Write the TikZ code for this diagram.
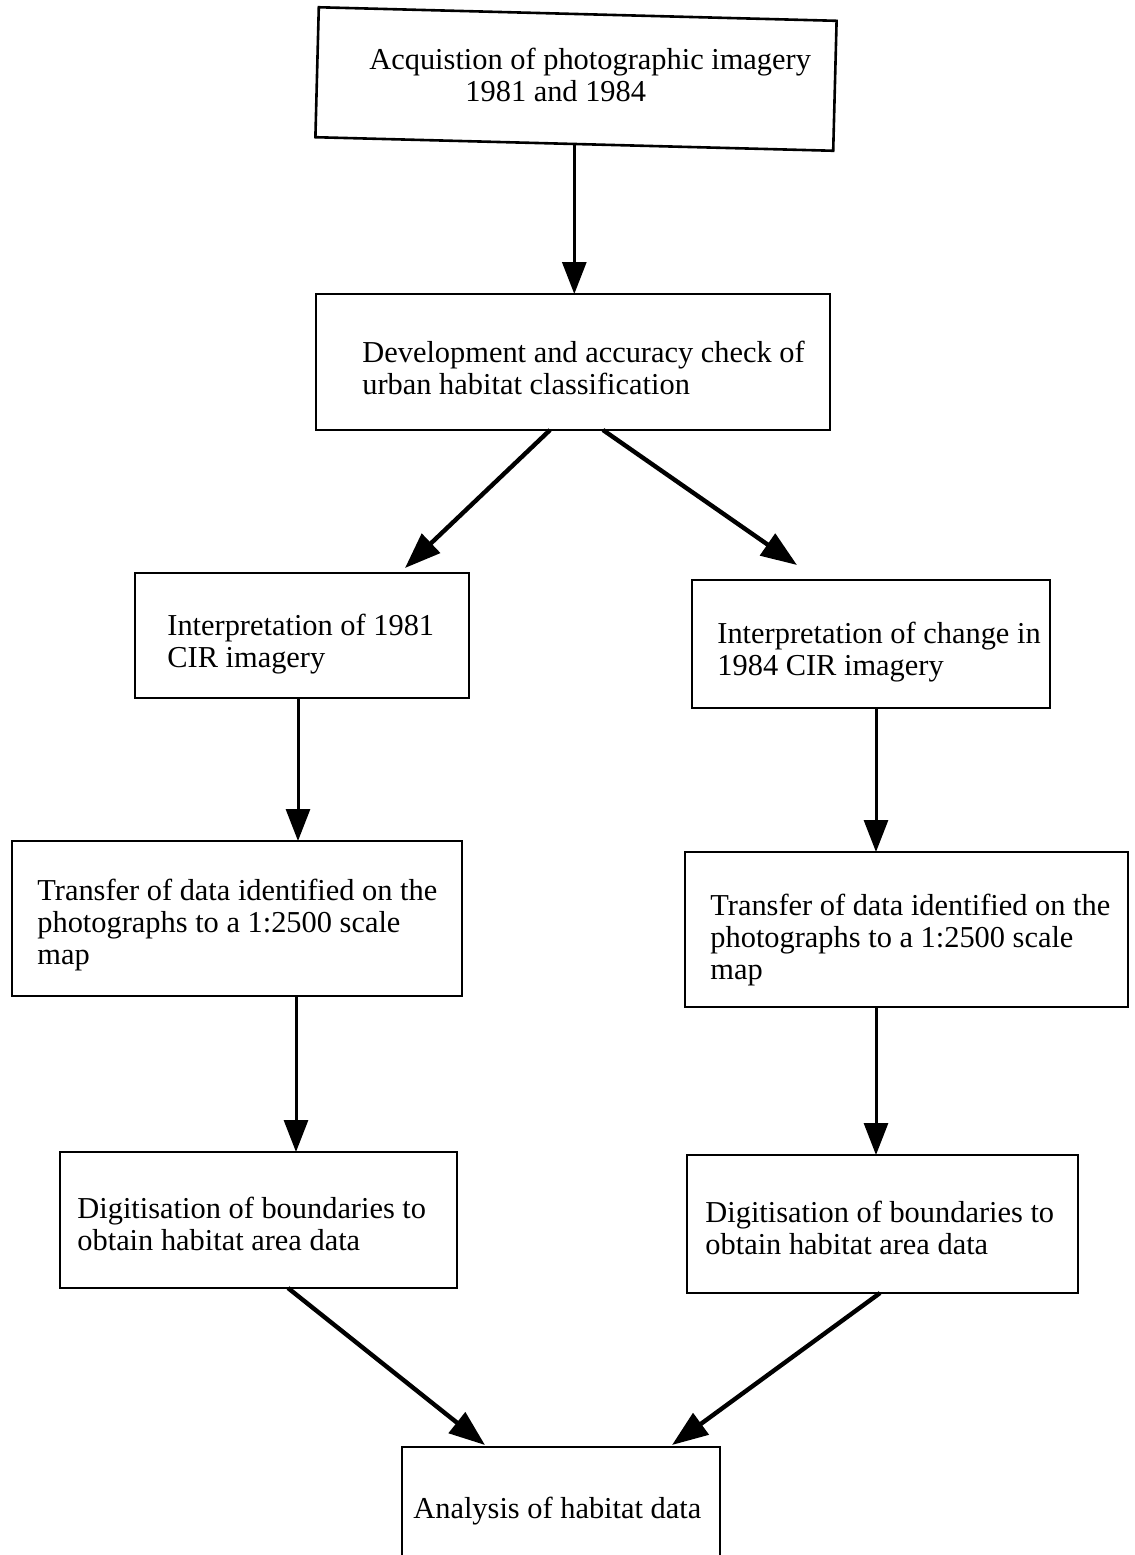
\documentclass[tikz,border=0pt]{standalone}
\usepackage{fontspec}
\setmainfont{Liberation Serif}
\usetikzlibrary{arrows.meta}
\begin{document}
\begin{tikzpicture}[x=0.5pt,y=-0.5pt,
  box/.style={draw, line width=1.3pt, inner sep=0pt, outer sep=0pt, anchor=north west},
  txt/.style={anchor=north west, inner sep=0pt, align=left, font=\fontsize{15.2}{16}\selectfont},
  arr/.style={line width=1.5pt, -{Triangle[length=16pt,width=12pt]}},
  arrd/.style={line width=2.2pt, -{Triangle[length=18pt,width=13pt]}}]
\fill[white] (0,0) rectangle (1135,1555);
\useasboundingbox (0,0) rectangle (1135,1555);

% boxes
\node[box, anchor=center, rotate=-1.5, minimum width=259pt, minimum height=65pt] (b1) at (576,79) {};
\node[box, minimum width=257pt, minimum height=68pt] (b2) at (316,294) {};
\node[box, minimum width=167pt, minimum height=62.5pt] (b3) at (135,573) {};
\node[box, minimum width=179pt, minimum height=64pt] (b4) at (692,580) {};
\node[box, minimum width=225pt, minimum height=77.5pt] (b5) at (12,841) {};
\node[box, minimum width=221.5pt, minimum height=77.5pt] (b6) at (685,852) {};
\node[box, minimum width=198.5pt, minimum height=68pt] (b7) at (60,1152) {};
\node[box, minimum width=195.5pt, minimum height=69pt] (b8) at (687,1155) {};
\node[box, draw=none, minimum width=159pt, minimum height=54pt] (b9) at (402,1447) {};
\draw[line width=1.3pt] (b9.south west) -- (b9.north west) -- (b9.north east) -- (b9.south east);

% texts
\node[txt] (t1) at (369,47) {\strut Acquistion of photographic imagery\\\hspace*{48pt}1981 and 1984};
\node[txt] (t2) at (362,340) {\strut Development and accuracy check of\\urban habitat classification};
\node[txt] (t3) at (167,613) {\strut Interpretation of 1981\\CIR imagery};
\node[txt] (t4) at (717,621) {\strut Interpretation of change in\\1984 CIR imagery};
\node[txt] (t5) at (37,878) {\strut Transfer of data identified on the\\photographs to a 1:2500 scale\\map};
\node[txt] (t6) at (710,893) {\strut Transfer of data identified on the\\photographs to a 1:2500 scale\\map};
\node[txt] (t7) at (77,1196) {\strut Digitisation of boundaries to\\obtain habitat area data};
\node[txt] (t8) at (705,1200) {\strut Digitisation of boundaries to\\obtain habitat area data};
\node[txt] (t9) at (413,1496) {\strut Analysis of habitat data};

% connectors
\draw[arr] (b1.south) -- (b1.south |- b2.north);
\draw[arrd] ([xshift=-11.5pt]b2.south) -- ([xshift=-32pt,yshift=2.5pt]b3.north east);
\draw[arrd] ([xshift=15pt]b2.south) -- ([xshift=52.5pt,yshift=7.5pt]b4.north west);
\draw[arr] ([xshift=-2pt]b3.south) -- ([xshift=-2pt]b3.south |- b5.north);
\draw[arr] ([xshift=2.5pt]b4.south) -- ([xshift=2.5pt]b4.south |- b6.north);
\draw[arr] ([xshift=-3pt]b3.south |- b5.south) -- ([xshift=-3pt]b3.south |- b7.north);
\draw[arr] ([xshift=2.5pt]b4.south |- b6.south) -- ([xshift=2.5pt]b4.south |- b8.north);
\draw[arrd] ([xshift=14.75pt]b7.south) -- ([xshift=41.5pt,yshift=1pt]b9.north west);
\draw[arrd] ([xshift=-1.25pt]b8.south) -- ([xshift=-24pt,yshift=1pt]b9.north east);
\end{tikzpicture}
\end{document}
